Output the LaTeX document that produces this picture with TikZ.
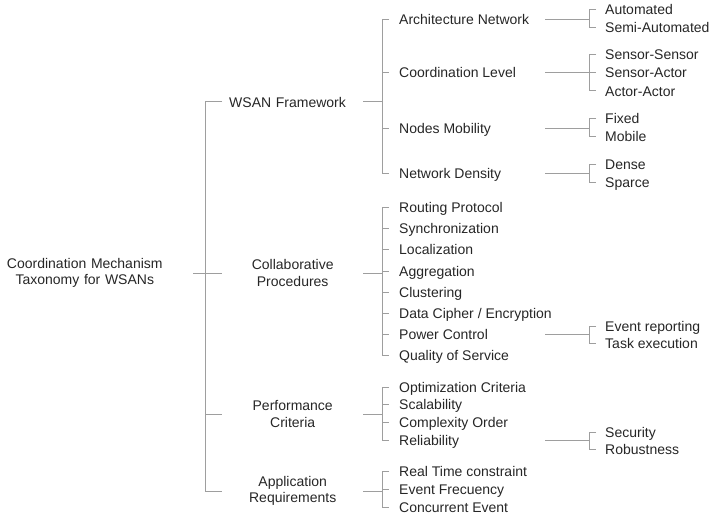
\documentclass[tikz,border=0pt]{standalone}
\usepackage{fontspec}
\setmainfont{Liberation Sans}
\tikzset{
    every node/.style={font=\fontsize{14}{16.5}\selectfont, text=black!85},
    link/.style={draw=black!38, line width=1pt},
    branch/.style={anchor=west, inner sep=0pt, text width=141pt, align=center},
    leaf/.style={anchor=west, inner xsep=10pt, text height=12pt, text depth=2pt},
    subleaf/.style={anchor=west, inner xsep=9pt, text height=12pt, text depth=2pt},
}

\begin{document}
\begin{tikzpicture}[x=1pt, y=-1pt]
    \useasboundingbox (0,0) rectangle (711,516);
    % bracket columns
    \coordinate (s1) at (205,0);
    \coordinate (c1) at (363,0);
    \coordinate (s2) at (382,0);
    \coordinate (c2) at (545,0);
    \coordinate (s3) at (589,0);

    \node[anchor=east, inner sep=0pt, text width=216pt, align=center] (root) at (193,273) {Coordination Mechanism\\Taxonomy for WSANs};

    \node[branch, align=left] (wsan) at (222,102) {\hspace*{7pt}WSAN Framework};
    \node[branch] (collab) at (222,273) {Collaborative\\Procedures};
    \node[branch] (perf) at (222,414) {Performance\\Criteria};
    \node[branch] (app) at (222,491) {Application\\Requirements};

    % second level
    \foreach \n/\y/\t in {arch/20/Architecture Network, coord/73/Coordination Level, mob/128/Nodes Mobility, dens/173/Network Density,
            rout/207/Routing Protocol, sync/228/Synchronization, loc/249/Localization, aggr/271/Aggregation, clus/292/Clustering,
            ciph/313/{Data Cipher / Encryption}, pow/334/Power Control, qos/355/Quality of Service,
            opt/387/Optimization Criteria, scal/404/Scalability, cplx/422/Complexity Order, rel/440/Reliability,
            rt/471/Real Time constraint, freq/489/Event Frecuency, conc/507/Concurrent Event}
        \node[leaf] (\n) at (389,\y) {\t};

    % third level
    \foreach \n/\y/\t in {auto/10/Automated, semi/28/Semi-Automated, ss/55/Sensor-Sensor, sa/73/Sensor-Actor, aa/91/Actor-Actor,
            fix/118/Fixed, mobl/136/Mobile, dense/164/Dense, sparce/182/Sparce,
            evr/326/Event reporting, task/343/Task execution, sec/432/Security, rob/449/Robustness}
        \node[subleaf] (\n) at (596,\y) {\t};

    % trunk
    \draw[link] (wsan.west) -| (s1 |- app.west) -- (app.west);
    \draw[link] (s1 |- perf.west) -- (perf.west);
    \draw[link] (root.east) -- (collab.west);

    % brackets
    \foreach \p/\f/\l in {wsan/arch/dens, collab/rout/qos, perf/opt/rel, app/rt/conc} {
        \draw[link] (c1 |- \p.west) -- (s2 |- \p.west);
        \draw[link] (\f.west) -| (s2 |- \l.west) -- (\l.west);
    }
    \foreach \k in {coord, mob, sync, loc, aggr, clus, ciph, pow, scal, cplx, freq}
        \draw[link] (s2 |- \k.west) -- (\k.west);

    \foreach \p/\f/\l in {arch/auto/semi, coord/ss/aa, mob/fix/mobl, dens/dense/sparce, pow/evr/task, rel/sec/rob} {
        \draw[link] (c2 |- \p.west) -- (s3 |- \p.west);
        \draw[link] (\f.west) -| (s3 |- \l.west) -- (\l.west);
    }
    \draw[link] (s3 |- sa.west) -- (sa.west);
\end{tikzpicture}
\end{document}
